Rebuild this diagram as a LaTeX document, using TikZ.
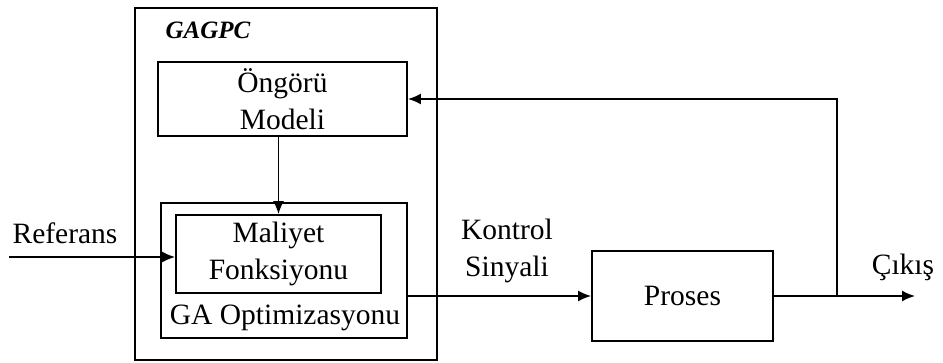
\documentclass[tikz,border=0pt]{standalone}
\usepackage{fontspec}
\setmainfont{Liberation Serif}
\usetikzlibrary{arrows.meta}
\begin{document}
\begin{tikzpicture}[x=1pt,y=-1pt,
  box/.style={draw, line width=1.8pt, minimum width=#1, inner sep=0pt},
  lbl/.style={font=\fontsize{29.5}{37}\selectfont, align=center, inner sep=0pt},
  conn/.style={line width=1.8pt, -{Latex[length=13pt,width=11pt]}},
  wire/.style={line width=1.8pt}]
\useasboundingbox (0,0) rectangle (943,363);
\node[box=302pt, minimum height=352pt] (outer) at (286,184) {};
\node[lbl, font=\fontsize{25}{30}\selectfont\bfseries\itshape] (title) at (208,30) {GAGPC};
\node[box=249pt, minimum height=74pt, lbl] (ong) at (282.5,99) {Öngörü\\Modeli};
\node[box=246pt, minimum height=135pt] (ga) at (284,270.5) {};
\node[box=205pt, minimum height=78pt, lbl] (mal) at (278.5,254) {Maliyet\\Fonksiyonu};
\node[lbl] (galbl) at (285,318) {GA Optimizasyonu};
\node[box=181pt, minimum height=90pt, lbl] (proc) at (682.5,296) {Proses};
\node[lbl] (ref) at (65,233) {Referans};
\node[lbl] (ks) at (507,251) {Kontrol\\Sinyali};
\node[lbl] (cik) at (903,267) {Çıkış};
\coordinate (refin) at (9,257);
\coordinate (out) at (915,296);
\coordinate (branch) at (837,296);
\draw[conn] (ong.south -| mal.north) -- (mal.north);
\draw[conn] (refin) -- (refin -| mal.west);
\draw[conn] (ga.east |- proc.west) -- (proc.west);
\draw[conn] (proc.east) -- (out);
\draw[conn] (branch) |- (ong.east);
\end{tikzpicture}
\end{document}
